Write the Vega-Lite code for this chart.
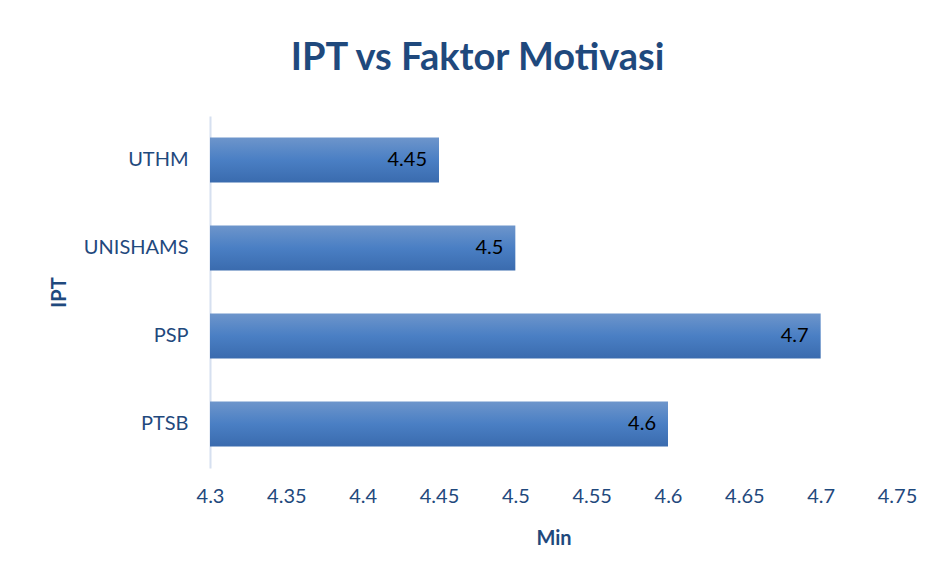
{
  "$schema": "https://vega.github.io/schema/vega-lite/v6.json",
  "autosize": "none",
  "width": 687,
  "height": 352,
  "padding": {"left": 210, "top": 116, "right": 38, "bottom": 108},
  "background": "white",
  "title": {
    "text": "IPT vs Faktor Motivasi",
    "font": "Lato",
    "fontSize": 38,
    "fontWeight": "bold",
    "color": "#1F497D",
    "anchor": "middle",
    "dx": -76,
    "offset": 38
  },
  "config": {"view": {"stroke": null}},
  "data": {
    "values": [
      {"IPT": "UTHM", "Min": 4.45},
      {"IPT": "UNISHAMS", "Min": 4.5},
      {"IPT": "PSP", "Min": 4.7},
      {"IPT": "PTSB", "Min": 4.6}
    ]
  },
  "encoding": {
    "y": {
      "field": "IPT",
      "type": "nominal",
      "sort": null,
      "scale": {"paddingInner": 0.49, "paddingOuter": 0.245},
      "axis": {
        "title": "IPT",
        "titleFont": "Lato",
        "titleFontSize": 20,
        "titleFontWeight": "bold",
        "titleColor": "#1F497D",
        "titlePadding": 14,
        "labelFont": "Lato",
        "labelFontSize": 20,
        "labelColor": "#1F497D",
        "labelPadding": 22,
        "ticks": false,
        "domainColor": "#D6E0F0",
        "domainWidth": 2,
        "grid": false
      }
    },
    "x": {
      "field": "Min",
      "type": "quantitative",
      "scale": {"domain": [4.3, 4.75], "zero": false, "nice": false},
      "axis": {
        "title": "Min",
        "values": [4.3, 4.35, 4.4, 4.45, 4.5, 4.55, 4.6, 4.65, 4.7, 4.75],
        "format": "~g",
        "titleFont": "Lato",
        "titleFontSize": 20,
        "titleFontWeight": "bold",
        "titleColor": "#1F497D",
        "titlePadding": 22,
        "labelFont": "Lato",
        "labelFontSize": 20,
        "labelColor": "#1F497D",
        "labelPadding": 18,
        "labelFlush": false,
        "ticks": false,
        "domain": false,
        "grid": false
      }
    }
  },
  "layer": [
    {
      "mark": {
        "type": "bar",
        "clip": true,
        "color": {
          "gradient": "linear",
          "x1": 0, "y1": 0, "x2": 0, "y2": 1,
          "stops": [
            {"offset": 0, "color": "#6D95CB"},
            {"offset": 0.5, "color": "#4A7FC4"},
            {"offset": 1, "color": "#3A6BAE"}
          ]
        }
      }
    },
    {
      "mark": {
        "type": "text",
        "align": "right",
        "baseline": "middle",
        "dx": -12,
        "font": "Lato",
        "fontSize": 20,
        "color": "#000000"
      },
      "encoding": {"text": {"field": "Min", "type": "quantitative", "format": "~g"}}
    }
  ]
}
